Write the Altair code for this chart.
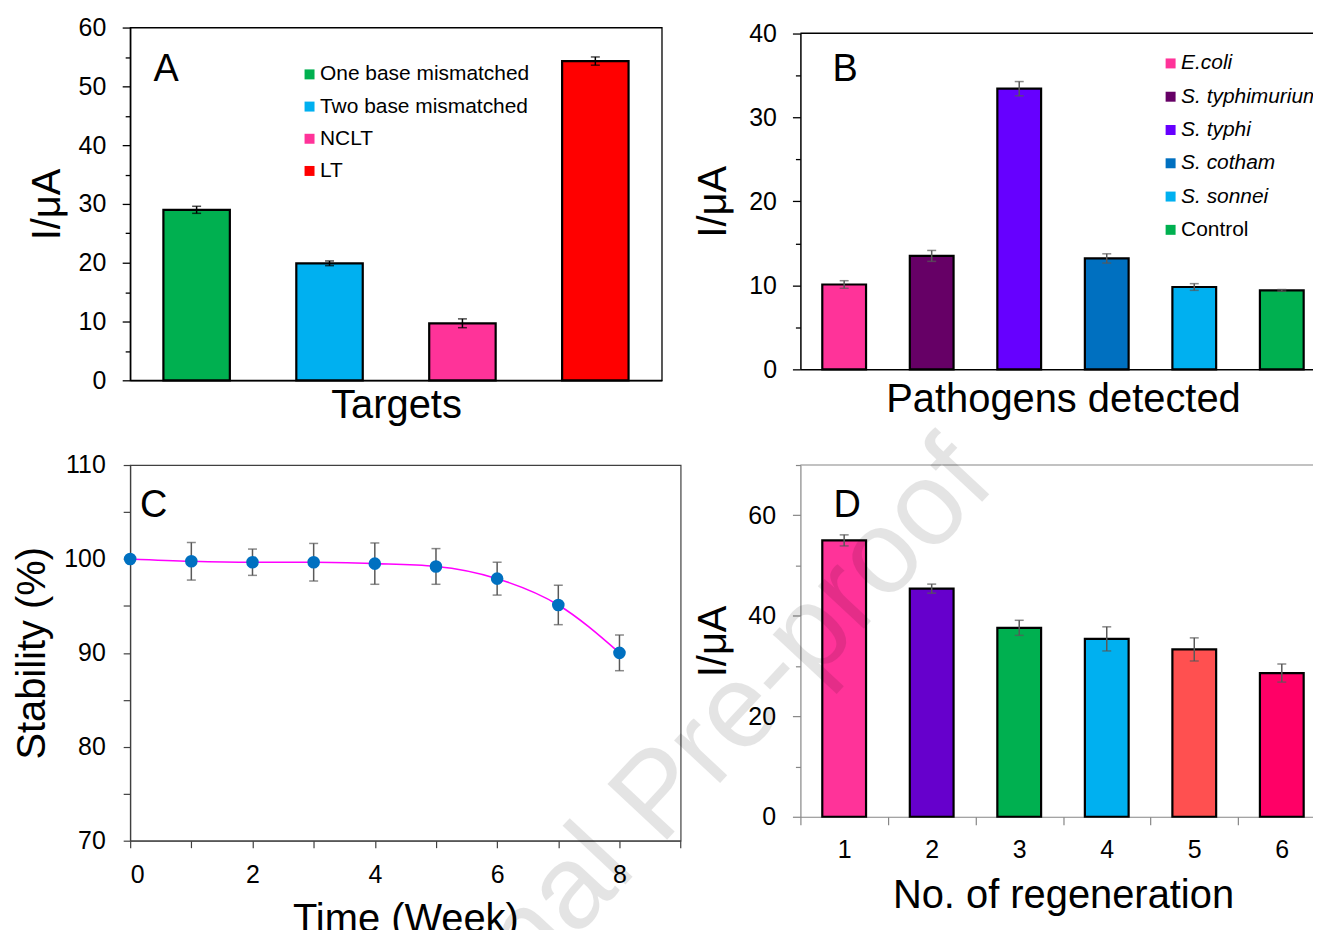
import altair as alt
import pandas as pd

FONT = "Liberation Sans"

# ---------------- Panel A ----------------
A_targets = ["One base mismatched", "Two base mismatched", "NCLT", "LT"]
A_values = [29.0, 19.9, 9.7, 54.3]
A_errors = [0.6, 0.4, 0.75, 0.7]
A_colors = ["#00B050", "#00B0F0", "#FF3399", "#FF0000"]
A_ticks = list(range(0, 61, 5))

# ---------------- Panel B ----------------
B_pathogens = ["E.coli", "S. typhimurium", "S. typhi", "S. cotham", "S. sonnei", "Control"]
B_values = [10.1, 13.5, 33.4, 13.2, 9.8, 9.4]
B_errors = [0.45, 0.65, 0.85, 0.55, 0.4, 0.1]
B_colors = ["#FF3399", "#660066", "#6600FF", "#0070C0", "#00B0F0", "#00B050"]
B_ticks = list(range(0, 41, 5))

# ---------------- Panel C ----------------
C_weeks = [0, 1, 2, 3, 4, 5, 6, 7, 8]
C_stability = [100.0, 99.75, 99.65, 99.65, 99.5, 99.2, 97.9, 95.1, 90.0]
C_errors = [0.0, 2.0, 1.4, 2.0, 2.2, 1.9, 1.75, 2.1, 1.9]
C_xticks = list(range(0, 10))
C_yticks = list(range(70, 111, 5))

# ---------------- Panel D ----------------
D_cycles = ["1", "2", "3", "4", "5", "6"]
D_values = [55.0, 45.4, 37.6, 35.4, 33.3, 28.6]
D_errors = [1.1, 0.9, 1.5, 2.4, 2.3, 1.8]
D_colors = ["#FF3399", "#6600CC", "#00B050", "#00B0F0", "#FF5050", "#FF0066"]
D_ticks = list(range(0, 71, 10))

WATERMARK = "Journal Pre-proof"


def frame(cat_name, cats, vals, errs):
    return pd.DataFrame({
        cat_name: cats,
        "value": vals,
        "lo": [v - e for v, e in zip(vals, errs)],
        "hi": [v + e for v, e in zip(vals, errs)],
    })


def cond_tick(major, big, small):
    return {"condition": {"test": f"datum.value % {major} === 0", "value": big}, "value": small}


def panel_letter(letter, x, y):
    return alt.Chart(pd.DataFrame({"letter": [letter]})).mark_text(
        font=FONT, fontSize=38, align="center", baseline="middle", color="black"
    ).encode(x=alt.value(x), y=alt.value(y), text="letter:N")


def watermark(x, y):
    return alt.Chart(pd.DataFrame({"wm": [WATERMARK]})).mark_text(
        font=FONT, fontSize=119, angle=313, align="center", baseline="middle",
        color="black", opacity=0.1
    ).encode(x=alt.value(x), y=alt.value(y), text="wm:N")


def hline(y, x0, x1, color, width):
    # frame edge / layout anchor line
    return alt.Chart(pd.DataFrame({"edge": ["line"]})).mark_rule(
        color=color, strokeWidth=width).encode(
        x=alt.value(x0), x2=alt.value(x1), y=alt.value(y))


def error_layers(df, xenc, yscale, yaxis, color, cap=9, width=1.5):
    rule = alt.Chart(df).mark_rule(color=color, strokeWidth=width).encode(
        x=xenc, y=alt.Y("lo:Q", scale=yscale, axis=yaxis), y2="hi:Q")
    lo = alt.Chart(df).mark_tick(orient="horizontal", size=cap, thickness=width, color=color).encode(
        x=xenc, y=alt.Y("lo:Q", scale=yscale, axis=yaxis))
    hi = alt.Chart(df).mark_tick(orient="horizontal", size=cap, thickness=width, color=color).encode(
        x=xenc, y=alt.Y("hi:Q", scale=yscale, axis=yaxis))
    return [rule, lo, hi]


# ================= A =================
dfA = frame("target", A_targets, A_values, A_errors)
A_x = alt.X("target:N", sort=A_targets,
            scale=alt.Scale(paddingInner=0.5, paddingOuter=0.25, round=False),
            axis=alt.Axis(title="Targets", labels=False, ticks=False, domainColor="black",
                          domainWidth=1.5, titlePadding=5))
A_yscale = alt.Scale(domain=[0, 60], nice=False)
A_yaxis = alt.Axis(title="I/μA", values=A_ticks,
                   labelExpr="datum.value % 10 === 0 ? datum.label : ''",
                   tickSize=cond_tick(10, 8, 5), tickColor="black", tickWidth=1.3,
                   domainColor="black", domainWidth=1.5, labelPadding=16.5, titlePadding=11)
A_bars = alt.Chart(dfA).mark_bar(stroke="black", strokeWidth=2.2).encode(
    x=A_x,
    y=alt.Y("value:Q", scale=A_yscale, axis=A_yaxis),
    color=alt.Color("target:N", scale=alt.Scale(domain=A_targets, range=A_colors),
                    legend=alt.Legend(title=None, orient="none", legendX=169.5, legendY=36.5,
                                      symbolType="square", symbolSize=100, symbolStrokeWidth=0,
                                      labelFontSize=21, labelOffset=0, rowPadding=10.3,
                                      labelLimit=400, padding=0, labelColor="black")),
)
A_chart = alt.layer(
    A_bars, *error_layers(dfA, A_x, A_yscale, A_yaxis, "black"),
    panel_letter("A", 36, 43),
    hline(-19, 0, 10, "white", 1),
).properties(width=533.5, height=354, view=alt.ViewBackground(stroke="black", strokeWidth=1.3))

# ================= B =================
dfB = frame("pathogen", B_pathogens, B_values, B_errors)
B_W, B_H = 527, 343
B_x = alt.X("pathogen:N", sort=B_pathogens,
            scale=alt.Scale(paddingInner=0.5, paddingOuter=0.25, round=False),
            axis=alt.Axis(title="Pathogens detected", labels=False, ticks=False,
                          domainColor="black", domainWidth=1.5, titlePadding=10))
B_yscale = alt.Scale(domain=[0, 40], nice=False, range=[B_H, 5.7])
B_yaxis = alt.Axis(title="I/μA", values=B_ticks,
                   labelExpr="datum.value % 10 === 0 ? datum.label : ''",
                   tickSize=cond_tick(10, 8, 5), tickColor="black", tickWidth=1.3,
                   domainColor="black", domainWidth=1.5, labelPadding=16, titlePadding=15)
B_bars = alt.Chart(dfB).mark_bar(stroke="black", strokeWidth=2.2).encode(
    x=B_x,
    y=alt.Y("value:Q", scale=B_yscale, axis=B_yaxis),
    color=alt.Color("pathogen:N", scale=alt.Scale(domain=B_pathogens, range=B_colors),
                    legend=alt.Legend(title=None, orient="none", legendX=361, legendY=25.5,
                                      symbolType="square", symbolSize=100, symbolStrokeWidth=0,
                                      labelFontSize=21, labelOffset=0, rowPadding=11.4,
                                      labelLimit=400, padding=0, labelColor="black",
                                      labelFontStyle={"expr": "datum.label === 'Control' ? 'normal' : 'italic'"})),
)
B_chart = alt.layer(
    B_bars, *error_layers(dfB, B_x, B_yscale, B_yaxis, "#595959"),
    hline(5.7, 0, 560, "black", 1.5),
    panel_letter("B", 45, 43),
).properties(width=B_W, height=B_H, view=alt.ViewBackground(stroke="transparent"))

# ================= C =================
dfC = pd.DataFrame({
    "week": C_weeks, "stability": C_stability,
    "lo": [v - e for v, e in zip(C_stability, C_errors)],
    "hi": [v + e for v, e in zip(C_stability, C_errors)],
})
C_x = alt.X("week:Q", scale=alt.Scale(domain=[0, 9], nice=False),
            axis=alt.Axis(title="Time (Week)", values=C_xticks,
                          labelExpr="datum.value % 2 === 0 && datum.value < 9 ? datum.label : ''",
                          tickSize=7, tickColor="#404040", tickWidth=1.2, domainColor="#404040",
                          domainWidth=1.2, labelPadding=15, titlePadding=12))
C_yscale = alt.Scale(domain=[70, 110], nice=False, zero=False)
C_yaxis = alt.Axis(title="Stability (%)", values=C_yticks,
                   labelExpr="datum.value % 10 === 0 ? datum.label : ''",
                   tickSize=7, tickColor="#404040", tickWidth=1.2, domainColor="#404040",
                   domainWidth=1.2, labelPadding=18, titlePadding=11)
C_err = alt.Chart(dfC).mark_rule(color="#595959", strokeWidth=1.5).encode(
    x=C_x, y=alt.Y("lo:Q", scale=C_yscale, axis=C_yaxis), y2="hi:Q")
C_caplo = alt.Chart(dfC).mark_tick(orient="horizontal", size=9, thickness=1.5, color="#595959").encode(
    x=C_x, y=alt.Y("lo:Q", scale=C_yscale, axis=C_yaxis))
C_caphi = alt.Chart(dfC).mark_tick(orient="horizontal", size=9, thickness=1.5, color="#595959").encode(
    x=C_x, y=alt.Y("hi:Q", scale=C_yscale, axis=C_yaxis))
C_line = alt.Chart(dfC).mark_line(color="#FF00FF", strokeWidth=1.6, interpolate="monotone").encode(
    x=C_x, y=alt.Y("stability:Q", scale=C_yscale, axis=C_yaxis))
C_pts = alt.Chart(dfC).mark_circle(size=160, color="#0070C0", opacity=1).encode(
    x=C_x, y=alt.Y("stability:Q", scale=C_yscale, axis=C_yaxis))
C_chart = alt.layer(
    C_err, C_caplo, C_caphi, C_line, C_pts, panel_letter("C", 23.5, 41),
    hline(800, -125, -115, "white", 1),
).properties(width=552.4, height=377, view=alt.ViewBackground(stroke="#404040", strokeWidth=1.2))

# ================= D =================
dfD = frame("cycle", D_cycles, D_values, D_errors)
D_W, D_H = 527, 353
D_step = D_W / 6.0
D_x = alt.X("cycle:N", sort=D_cycles,
            scale=alt.Scale(paddingInner=0.5, paddingOuter=0.25, round=False),
            axis=alt.Axis(title="No. of regeneration", labelAngle=0, ticks=True,
                          domainColor="#868686", domainWidth=1.2,
                          tickSize=8, tickColor="#868686", tickWidth=1.2,
                          tickOffset=-D_step / 2, labelOffset=D_step / 2,
                          labelPadding=13, titlePadding=13))
D_yscale = alt.Scale(domain=[0, 70], nice=False)
D_yaxis = alt.Axis(title="I/μA", values=D_ticks,
                   labelExpr="datum.value % 20 === 0 && datum.value < 70 ? datum.label : ''",
                   tickSize=cond_tick(20, 8, 5), tickColor="#868686", tickWidth=1.2,
                   domainColor="#868686", domainWidth=1.2, labelPadding=17, titlePadding=14)
D_bars = alt.Chart(dfD).mark_bar(stroke="black", strokeWidth=2.2).encode(
    x=D_x,
    y=alt.Y("value:Q", scale=D_yscale, axis=D_yaxis),
    color=alt.Color("cycle:N", scale=alt.Scale(domain=D_cycles, range=D_colors), legend=None),
)
D_chart = alt.layer(
    D_bars, *error_layers(dfD, D_x, D_yscale, D_yaxis, "#595959"),
    hline(0, 0, 560, "#868686", 1.2),
    panel_letter("D", 47, 41), watermark(-142, 332),
).properties(width=D_W, height=D_H, view=alt.ViewBackground(stroke="transparent"))

chart = alt.concat(
    A_chart, B_chart, C_chart, D_chart, columns=2,
    spacing={"row": 85, "column": 119.6}, bounds="flush", align="each",
).resolve_scale(
    color="independent"
).properties(
    padding={"left": -4.4, "top": -3, "right": -47, "bottom": -337},
    background="white",
).configure_axis(
    labelFont=FONT, titleFont=FONT, labelFontSize=25, titleFontSize=40,
    labelColor="black", titleColor="black", titleFontWeight="normal", grid=False,
).configure_legend(
    labelFont=FONT,
).configure_text(font=FONT)

chart.save("out.html", embed_options={"renderer": "svg", "actions": False})
